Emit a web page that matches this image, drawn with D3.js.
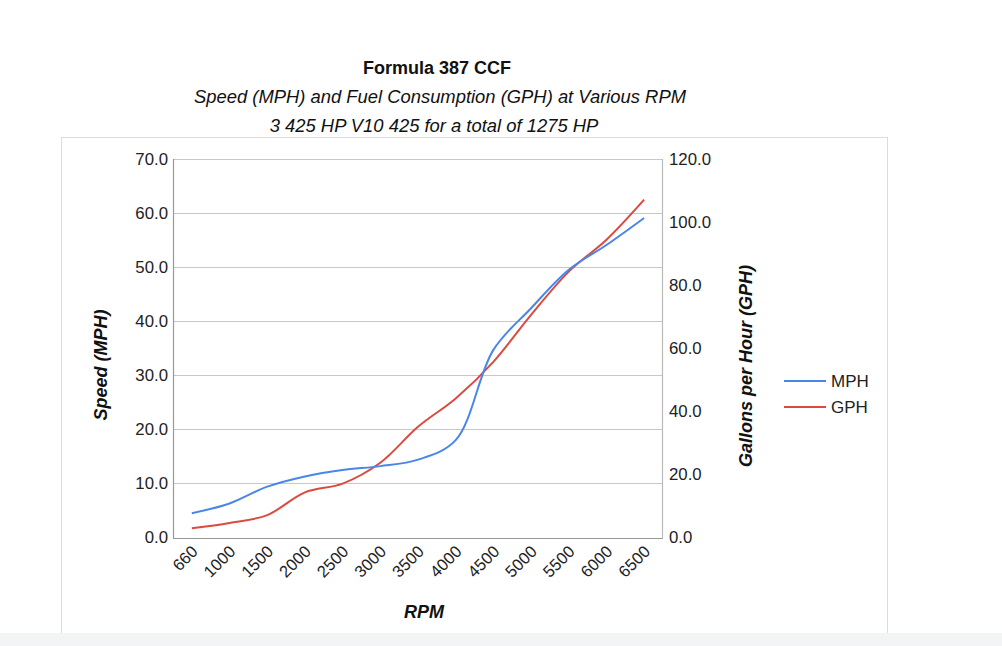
<!DOCTYPE html>
<html><head><meta charset="utf-8">
<script src="https://cdn.jsdelivr.net/npm/d3@7"></script>
<style>
html,body{margin:0;padding:0;background:#fff;}
svg{display:block;font-family:"Liberation Sans",Arial,sans-serif;}
</style></head>
<body>
<svg id="chart" width="1002" height="646"></svg>
<script>
const rpm = ["660","1000","1500","2000","2500","3000","3500","4000","4500","5000","5500","6000","6500"];
const mph = [4.5, 6.3, 9.4, 11.3, 12.5, 13.2, 14.4, 18.0, 34.7, 42.4, 49.5, 54.1, 59.1];
const gph = [2.9, 4.6, 7.1, 14.3, 17.1, 23.7, 35.1, 44.1, 55.7, 70.6, 84.3, 94.4, 107.1];
const leftTicks = [0, 10, 20, 30, 40, 50, 60, 70];
const rightTicks = [0, 20, 40, 60, 80, 100, 120];
const titles = ["Formula 387 CCF", "Speed (MPH) and Fuel Consumption (GPH) at Various RPM", "3 425 HP V10 425 for a total of 1275 HP"];
const seriesNames = ["MPH", "GPH"];
const colors = ["#4a86e8", "#db4a3f"];

const svg = d3.select("#chart");
const W = 1002, H = 646;
const m = {left: 173, right: 663, top: 159, bottom: 537.5};
const FONT = "Liberation Sans, Arial, sans-serif";

// panel and bottom band
svg.append("rect").attr("x",61.5).attr("y",137.5).attr("width",826).attr("height",500).attr("fill","#fff").attr("stroke","#dcdcdc");
svg.append("rect").attr("x",0).attr("y",633).attr("width",W).attr("height",H-633).attr("fill","#f3f4f6");

const x = d3.scaleBand().domain(rpm).range([m.left, m.right]);
const yL = d3.scaleLinear().domain([0,70]).range([m.bottom, m.top]);
const yR = d3.scaleLinear().domain([0,120]).range([m.bottom, m.top]);

// titles
svg.append("text").attr("x",437).attr("y",74).attr("text-anchor","middle").attr("font-size",18).attr("font-weight","bold").attr("fill","#111").text(titles[0]);
svg.append("text").attr("x",440).attr("y",103).attr("text-anchor","middle").attr("font-size",18.4).attr("font-style","italic").attr("fill","#111").text(titles[1]);
svg.append("text").attr("x",434).attr("y",132).attr("text-anchor","middle").attr("font-size",18.4).attr("font-style","italic").attr("fill","#111").text(titles[2]);

// gridlines
svg.append("g").selectAll("line").data(leftTicks).join("line")
  .attr("x1",m.left).attr("x2",m.right)
  .attr("y1",d=>Math.round(yL(d))+0.5).attr("y2",d=>Math.round(yL(d))+0.5)
  .attr("stroke",d=>d===0?"#999":"#c8c8c8").attr("stroke-width",1.2);
// frame verticals
svg.append("line").attr("x1",m.left+0.5).attr("x2",m.left+0.5).attr("y1",m.top).attr("y2",m.bottom+1).attr("stroke","#999").attr("stroke-width",1.2);
svg.append("line").attr("x1",m.right-0.5).attr("x2",m.right-0.5).attr("y1",m.top).attr("y2",m.bottom+1).attr("stroke","#bbb").attr("stroke-width",1.2);

// left axis
const gL = svg.append("g").attr("transform",`translate(${m.left},0)`)
  .call(d3.axisLeft(yL).tickValues(leftTicks).tickFormat(d3.format(".1f")).tickSize(0).tickPadding(5));
gL.select(".domain").remove();
gL.selectAll("text").attr("font-size",16.8).attr("fill","#222").attr("font-family",FONT);

// right axis
const gR = svg.append("g").attr("transform",`translate(${m.right},0)`)
  .call(d3.axisRight(yR).tickValues(rightTicks).tickFormat(d3.format(".1f")).tickSize(0).tickPadding(6));
gR.select(".domain").remove();
gR.selectAll("text").attr("font-size",16.8).attr("fill","#222").attr("font-family",FONT);

// bottom axis
const gB = svg.append("g").attr("transform",`translate(0,${m.bottom})`)
  .call(d3.axisBottom(x).tickSize(0).tickPadding(0));
gB.select(".domain").remove();
gB.selectAll("text").attr("font-size",16.5).attr("fill","#222").attr("font-family",FONT)
  .attr("text-anchor","end").attr("dy",0)
  .attr("transform","translate(7,15) rotate(-45)");

// axis titles
svg.append("text").attr("transform","translate(107,365) rotate(-90)").attr("text-anchor","middle")
  .attr("font-size",18).attr("font-weight","bold").attr("font-style","italic").attr("fill","#111").text("Speed (MPH)");
svg.append("text").attr("transform","translate(752,366) rotate(-90)").attr("text-anchor","middle")
  .attr("font-size",18).attr("font-weight","bold").attr("font-style","italic").attr("fill","#111").text("Gallons per Hour (GPH)");
svg.append("text").attr("x",424).attr("y",618).attr("text-anchor","middle")
  .attr("font-size",18).attr("font-weight","bold").attr("font-style","italic").attr("fill","#111").text("RPM");

// lines
const cx = d => x(d) + x.bandwidth()/2;
const lineL = d3.line().x((d,i)=>cx(rpm[i])).y(d=>yL(d)).curve(d3.curveCatmullRom.alpha(0.5));
const lineR = d3.line().x((d,i)=>cx(rpm[i])).y(d=>yR(d)).curve(d3.curveCatmullRom.alpha(0.5));
svg.append("path").datum(gph).attr("d",lineR).attr("fill","none").attr("stroke",colors[1]).attr("stroke-width",2);
svg.append("path").datum(mph).attr("d",lineL).attr("fill","none").attr("stroke",colors[0]).attr("stroke-width",2);

// legend
const lg = svg.append("g");
seriesNames.forEach((n,i)=>{
  const yy = 381 + i*26;
  lg.append("line").attr("x1",784).attr("x2",826).attr("y1",yy).attr("y2",yy).attr("stroke",colors[i]).attr("stroke-width",2);
  lg.append("text").attr("x",831).attr("y",yy+6).attr("font-size",17).attr("fill","#222").text(n);
});
</script>
</body></html>
